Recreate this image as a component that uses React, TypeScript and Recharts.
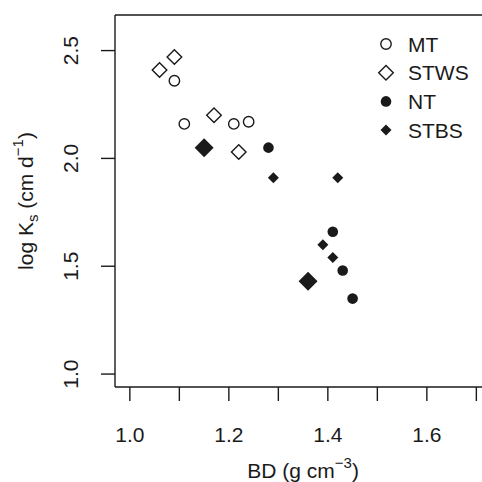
import { ScatterChart, Scatter, XAxis, YAxis, ReferenceLine, Legend } from 'recharts';

// bulk density (g cm-3) vs log Ks
const mtBD = [1.09, 1.11, 1.21, 1.24];
const mtKs = [2.36, 2.16, 2.16, 2.17];

const stwsBD = [1.06, 1.09, 1.17, 1.22];
const stwsKs = [2.41, 2.47, 2.2, 2.03];

const ntBD = [1.28, 1.41, 1.43, 1.45];
const ntKs = [2.05, 1.66, 1.48, 1.35];

const stbsBD = [1.29, 1.42, 1.39, 1.41, 1.15, 1.36];
const stbsKs = [1.91, 1.91, 1.6, 1.54, 2.05, 1.43];
const stbsBig = [false, false, false, false, true, true];

const xTicks = [1.0, 1.1, 1.2, 1.3, 1.4, 1.5, 1.6, 1.7];
const xLabels = ['1.0', '', '1.2', '', '1.4', '', '1.6', ''];
const yTicks = [1.0, 1.5, 2.0, 2.5];
const yLabels = ['1.0', '1.5', '2.0', '2.5'];

const seriesNames = ['MT', 'STWS', 'NT', 'STBS'];

const FONT = '"Liberation Sans", Arial, sans-serif';
const INK = '#1a1a1a';

const toPoints = (xs: number[], ys: number[]) => xs.map((x, i) => ({ x, y: ys[i] }));

const mtData = toPoints(mtBD, mtKs);
const stwsData = toPoints(stwsBD, stwsKs);
const ntData = toPoints(ntBD, ntKs);
const stbsData = stbsBD.map((x, i) => ({ x, y: stbsKs[i], big: stbsBig[i] }));

const diamond = (cx: number, cy: number, h: number) =>
  `M${cx},${cy - h}L${cx + h},${cy}L${cx},${cy + h}L${cx - h},${cy}Z`;

function Marker({ kind, cx, cy, big }: { kind: string; cx: number; cy: number; big?: boolean }) {
  if (kind === 'MT') return <circle cx={cx} cy={cy} r={5.2} fill="none" stroke={INK} strokeWidth={1.4} />;
  if (kind === 'STWS') return <path d={diamond(cx, cy, 7.3)} fill="none" stroke={INK} strokeWidth={1.4} />;
  if (kind === 'NT') return <circle cx={cx} cy={cy} r={5.3} fill={INK} />;
  return <path d={diamond(cx, cy, big ? 9.5 : 5.5)} fill={INK} />;
}

const shapeFor = (kind: string) => (p: any) =>
  <Marker kind={kind} cx={p.cx} cy={p.cy} big={p.payload?.big} />;

const XTick = (p: any) => {
  const i = xTicks.findIndex((t) => Math.abs(t - p.payload.value) < 1e-6);
  const label = i >= 0 ? xLabels[i] : '';
  if (!label) return <g />;
  return (
    <text x={p.x} y={p.y + 40.5} textAnchor="middle" fontSize={21} fontFamily={FONT} fill={INK}>
      {label}
    </text>
  );
};

const YTick = (p: any) => {
  const i = yTicks.findIndex((t) => Math.abs(t - p.payload.value) < 1e-6);
  const tx = p.x - 22.5;
  return (
    <text x={tx} y={p.y} transform={`rotate(-90 ${tx} ${p.y})`} textAnchor="middle"
      fontSize={21} fontFamily={FONT} fill={INK}>
      {yLabels[i]}
    </text>
  );
};

const LegendBox = () => (
  <svg width={482} height={150} style={{ display: 'block' }}>
    {seriesNames.map((name, i) => {
      const cy = 44 + i * 28.7;
      return (
        <g key={name}>
          <Marker kind={name} cx={386} cy={cy} big={false} />
          <text x={408} y={cy + 7.5} fontSize={21} fontFamily={FONT} fill={INK}>{name}</text>
        </g>
      );
    })}
  </svg>
);

export default function App() {
  return (
    <div style={{ position: 'absolute', left: 0, top: 0, width: 482, height: 482, overflow: 'hidden', background: '#fff' }}>
      <ScatterChart width={500} height={482} margin={{ top: 15, right: 8.8, bottom: 0, left: 0 }}>
        <XAxis
          type="number"
          dataKey="x"
          domain={[0.97, 1.73]}
          ticks={xTicks}
          allowDataOverflow
          height={95}
          tickSize={14}
          tickMargin={0}
          axisLine={{ stroke: INK, strokeWidth: 1.4 }}
          tickLine={{ stroke: INK, strokeWidth: 1.4 }}
          tick={<XTick />}
          interval={0}
          label={{
            content: (props: any) => {
              const vb = props.viewBox;
              const cx = vb.x + vb.width / 2;
              return (
                <text x={cx} y={478} textAnchor="middle" fontSize={21} fontFamily={FONT} fill={INK}>
                  BD (g cm<tspan dy={-10} fontSize={15}>−3</tspan><tspan dy={10}>)</tspan>
                </text>
              );
            },
          }}
        />
        <YAxis
          type="number"
          dataKey="y"
          domain={[0.94, 2.665]}
          ticks={yTicks}
          allowDataOverflow
          width={115}
          tickSize={14}
          tickMargin={0}
          axisLine={{ stroke: INK, strokeWidth: 1.4 }}
          tickLine={{ stroke: INK, strokeWidth: 1.4 }}
          tick={<YTick />}
          interval={0}
          label={{
            content: (props: any) => {
              const vb = props.viewBox;
              const cy = vb.y + vb.height / 2;
              const tx = 33;
              return (
                <text x={tx} y={cy} transform={`rotate(-90 ${tx} ${cy})`} textAnchor="middle"
                  fontSize={21} fontFamily={FONT} fill={INK}>
                  log K<tspan dy={5} fontSize={15}>s</tspan>
                  <tspan dy={-5}> (cm d</tspan>
                  <tspan dy={-10} fontSize={15}>−1</tspan>
                  <tspan dy={10}>)</tspan>
                </text>
              );
            },
          }}
        />
        <ReferenceLine y={2.665} stroke={INK} strokeWidth={1.4} />
        <Legend
          layout="vertical"
          align="center"
          verticalAlign="middle"
          content={<LegendBox />}
          wrapperStyle={{ left: 0, top: 0, width: 482, height: 150 }}
        />
        <Scatter name="MT" data={mtData} shape={shapeFor('MT')} isAnimationActive={false} />
        <Scatter name="STWS" data={stwsData} shape={shapeFor('STWS')} isAnimationActive={false} />
        <Scatter name="NT" data={ntData} shape={shapeFor('NT')} isAnimationActive={false} />
        <Scatter name="STBS" data={stbsData} shape={shapeFor('STBS')} isAnimationActive={false} />
      </ScatterChart>
    </div>
  );
}
